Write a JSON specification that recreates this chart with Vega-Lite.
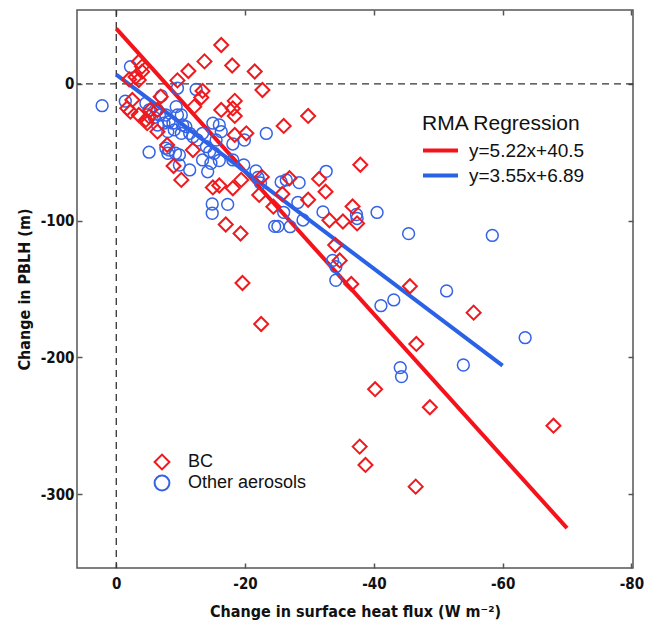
{
  "$schema": "https://vega.github.io/schema/vega-lite/v6.json",
  "width": 556,
  "height": 558,
  "autosize": {"type": "none"},
  "padding": {"left": 77, "top": 10, "right": 13, "bottom": 64},
  "background": "white",
  "config": {
    "view": {"stroke": "#555555", "strokeWidth": 1.5},
    "font": "Liberation Sans",
    "point": {"opacity": 1},
    "axis": {
      "grid": false,
      "domain": false,
      "tickSize": -5,
      "tickColor": "#555555",
      "tickWidth": 1.5,
      "labelFont": "Liberation Sans Narrow, Arial Narrow, DejaVu Sans Condensed, Liberation Sans",
      "labelFontWeight": "bold",
      "labelFontSize": 15,
      "labelColor": "#111111",
      "labelExpr": "'' + datum.value",
      "titleFont": "Liberation Sans Narrow, Arial Narrow, DejaVu Sans Condensed, Liberation Sans",
      "titleFontWeight": "bold",
      "titleFontSize": 16,
      "titleColor": "#111111"
    }
  },
  "datasets": {
    "pts": [
      {"g":"BC","x":-16.3,"y":28.5},{"g":"BC","x":-13.7,"y":16.5},{"g":"BC","x":-11.2,"y":9.5},{"g":"BC","x":-18.0,"y":13.5},{"g":"BC","x":-21.5,"y":9.1},{"g":"BC","x":-22.7,"y":-4.4},{"g":"BC","x":-9.5,"y":2.6},{"g":"BC","x":-13.4,"y":-5.1},{"g":"BC","x":-13.2,"y":-9.9},{"g":"BC","x":-18.4,"y":-12.4},{"g":"BC","x":-18.1,"y":-17.9},{"g":"BC","x":-18.4,"y":-23.4},{"g":"BC","x":-16.3,"y":-19.0},{"g":"BC","x":-3.5,"y":16.3},{"g":"BC","x":-4.0,"y":12.7},{"g":"BC","x":-4.0,"y":9.0},{"g":"BC","x":-3.5,"y":2.9},{"g":"BC","x":-3.0,"y":5.1},{"g":"BC","x":-2.5,"y":-11.7},{"g":"BC","x":-1.7,"y":-17.8},{"g":"BC","x":-5.3,"y":-19.0},{"g":"BC","x":-5.1,"y":-23.9},{"g":"BC","x":-6.9,"y":-9.3},{"g":"BC","x":-2.2,"y":-20.3},{"g":"BC","x":-3.5,"y":-22.7},{"g":"BC","x":-4.6,"y":-26.3},{"g":"BC","x":-4.8,"y":-28.7},{"g":"BC","x":-6.4,"y":-34.9},{"g":"BC","x":-7.9,"y":-44.6},{"g":"BC","x":-8.9,"y":-60.0},{"g":"BC","x":-10.1,"y":-70.2},{"g":"BC","x":-12.1,"y":-16.6},{"g":"BC","x":-29.8,"y":-23.4},{"g":"BC","x":-26.0,"y":-30.7},{"g":"BC","x":-20.2,"y":-36.1},{"g":"BC","x":-18.4,"y":-37.3},{"g":"BC","x":-11.9,"y":-48.3},{"g":"BC","x":-15.0,"y":-75.7},{"g":"BC","x":-16.0,"y":-74.3},{"g":"BC","x":-18.1,"y":-76.3},{"g":"BC","x":-19.4,"y":-70.2},{"g":"BC","x":-22.2,"y":-81.2},{"g":"BC","x":-22.6,"y":-68.0},{"g":"BC","x":-17.0,"y":-102.8},{"g":"BC","x":-19.3,"y":-109.4},{"g":"BC","x":-19.6,"y":-145.6},{"g":"BC","x":-22.5,"y":-175.6},{"g":"BC","x":-24.4,"y":-89.8},{"g":"BC","x":-25.8,"y":-80.5},{"g":"BC","x":-26.9,"y":-69.0},{"g":"BC","x":-29.8,"y":-84.7},{"g":"BC","x":-31.5,"y":-69.5},{"g":"BC","x":-32.5,"y":-78.8},{"g":"BC","x":-33.1,"y":-99.7},{"g":"BC","x":-35.2,"y":-100.6},{"g":"BC","x":-37.4,"y":-102.0},{"g":"BC","x":-36.7,"y":-89.6},{"g":"BC","x":-37.9,"y":-59.1},{"g":"BC","x":-34.0,"y":-117.8},{"g":"BC","x":-34.7,"y":-129.1},{"g":"BC","x":-36.5,"y":-146.3},{"g":"BC","x":-45.6,"y":-148.0},{"g":"BC","x":-55.5,"y":-167.3},{"g":"BC","x":-46.6,"y":-190.2},{"g":"BC","x":-40.2,"y":-223.3},{"g":"BC","x":-48.7,"y":-236.5},{"g":"BC","x":-67.9,"y":-250.0},{"g":"BC","x":-37.8,"y":-265.3},{"g":"BC","x":-38.7,"y":-278.7},{"g":"BC","x":-46.5,"y":-294.6},{"g":"BC","x":-2.0,"y":3.3},{"g":"BC","x":-6.4,"y":-19.0},
      {"g":"Other aerosols","x":2.2,"y":-15.9},{"g":"Other aerosols","x":-2.2,"y":12.7},{"g":"Other aerosols","x":-1.4,"y":-12.6},{"g":"Other aerosols","x":-4.6,"y":-14.1},{"g":"Other aerosols","x":-5.1,"y":-19.0},{"g":"Other aerosols","x":-5.9,"y":-24.5},{"g":"Other aerosols","x":-6.7,"y":-22.7},{"g":"Other aerosols","x":-7.0,"y":-8.8},{"g":"Other aerosols","x":-7.7,"y":-22.7},{"g":"Other aerosols","x":-8.2,"y":-27.6},{"g":"Other aerosols","x":-8.0,"y":-34.9},{"g":"Other aerosols","x":-9.0,"y":-33.6},{"g":"Other aerosols","x":-9.3,"y":-16.6},{"g":"Other aerosols","x":-9.5,"y":-22.7},{"g":"Other aerosols","x":-9.5,"y":-3.1},{"g":"Other aerosols","x":-10.1,"y":-22.7},{"g":"Other aerosols","x":-10.3,"y":-30.0},{"g":"Other aerosols","x":-10.8,"y":-31.2},{"g":"Other aerosols","x":-11.4,"y":-36.1},{"g":"Other aerosols","x":-10.1,"y":-36.1},{"g":"Other aerosols","x":-12.6,"y":-41.0},{"g":"Other aerosols","x":-12.4,"y":-4.0},{"g":"Other aerosols","x":-13.4,"y":-36.1},{"g":"Other aerosols","x":-14.0,"y":-45.9},{"g":"Other aerosols","x":-15.0,"y":-28.7},{"g":"Other aerosols","x":-16.0,"y":-30.0},{"g":"Other aerosols","x":-16.3,"y":-34.9},{"g":"Other aerosols","x":-15.5,"y":-41.0},{"g":"Other aerosols","x":-14.5,"y":-49.5},{"g":"Other aerosols","x":-15.2,"y":-50.7},{"g":"Other aerosols","x":-16.0,"y":-56.0},{"g":"Other aerosols","x":-14.7,"y":-58.0},{"g":"Other aerosols","x":-13.4,"y":-55.6},{"g":"Other aerosols","x":-14.2,"y":-64.2},{"g":"Other aerosols","x":-11.4,"y":-62.9},{"g":"Other aerosols","x":-9.8,"y":-59.3},{"g":"Other aerosols","x":-9.8,"y":-51.9},{"g":"Other aerosols","x":-8.2,"y":-48.3},{"g":"Other aerosols","x":-8.0,"y":-50.7},{"g":"Other aerosols","x":-5.1,"y":-49.9},{"g":"Other aerosols","x":-18.1,"y":-43.9},{"g":"Other aerosols","x":-19.9,"y":-41.0},{"g":"Other aerosols","x":-18.1,"y":-55.6},{"g":"Other aerosols","x":-23.3,"y":-36.2},{"g":"Other aerosols","x":-19.8,"y":-59.3},{"g":"Other aerosols","x":-21.7,"y":-63.6},{"g":"Other aerosols","x":-22.0,"y":-68.4},{"g":"Other aerosols","x":-22.4,"y":-72.4},{"g":"Other aerosols","x":-25.6,"y":-71.7},{"g":"Other aerosols","x":-26.4,"y":-70.2},{"g":"Other aerosols","x":-28.4,"y":-72.2},{"g":"Other aerosols","x":-28.2,"y":-86.7},{"g":"Other aerosols","x":-32.6,"y":-63.9},{"g":"Other aerosols","x":-26.0,"y":-93.9},{"g":"Other aerosols","x":-24.6,"y":-104.2},{"g":"Other aerosols","x":-25.1,"y":-104.2},{"g":"Other aerosols","x":-27.0,"y":-104.4},{"g":"Other aerosols","x":-29.0,"y":-99.5},{"g":"Other aerosols","x":-32.1,"y":-93.6},{"g":"Other aerosols","x":-37.3,"y":-95.5},{"g":"Other aerosols","x":-37.4,"y":-98.4},{"g":"Other aerosols","x":-14.9,"y":-87.8},{"g":"Other aerosols","x":-14.9,"y":-94.6},{"g":"Other aerosols","x":-17.3,"y":-88.1},{"g":"Other aerosols","x":-33.6,"y":-129.1},{"g":"Other aerosols","x":-34.1,"y":-133.7},{"g":"Other aerosols","x":-34.1,"y":-143.6},{"g":"Other aerosols","x":-40.5,"y":-94.0},{"g":"Other aerosols","x":-45.4,"y":-109.5},{"g":"Other aerosols","x":-58.4,"y":-110.8},{"g":"Other aerosols","x":-51.3,"y":-151.4},{"g":"Other aerosols","x":-43.1,"y":-158.0},{"g":"Other aerosols","x":-41.1,"y":-162.2},{"g":"Other aerosols","x":-63.5,"y":-185.6},{"g":"Other aerosols","x":-53.9,"y":-205.6},{"g":"Other aerosols","x":-44.1,"y":-207.5},{"g":"Other aerosols","x":-44.3,"y":-214.1},{"g":"Other aerosols","x":-8.8,"y":-28.7},{"g":"Other aerosols","x":-11.9,"y":-38.6},{"g":"Other aerosols","x":-6.4,"y":-30.0},{"g":"Other aerosols","x":-7.4,"y":-28.7},{"g":"Other aerosols","x":-7.7,"y":-47.0},{"g":"Other aerosols","x":-9.2,"y":-50.7},{"g":"Other aerosols","x":-6.4,"y":-19.0}
    ],
    "lines": [
      {"eq":"y=5.22x+40.5","x":0,"y":40.5},
      {"eq":"y=5.22x+40.5","x":-70,"y":-324.9},
      {"eq":"y=3.55x+6.89","x":0,"y":6.89},
      {"eq":"y=3.55x+6.89","x":-60,"y":-206.1}
    ],
    "zero": [{"v":0}]
  },
  "layer": [
    {
      "data": {"name": "zero"},
      "mark": {"type": "rule", "color": "#333333", "strokeWidth": 1.3, "strokeDash": [7, 5]},
      "encoding": {
        "x": {
          "field": "v", "type": "quantitative",
          "scale": {"domain": [-80.25, 6.1], "reverse": true, "nice": false, "zero": false},
          "axis": {"orient": "bottom", "values": [0, -20, -40, -60, -80], "labelPadding": 13, "title": "Change in surface heat flux (W m⁻²)", "titlePadding": 12}
        }
      }
    },
    {
      "data": {"name": "zero"},
      "mark": {"type": "rule", "color": "#333333", "strokeWidth": 1.3, "strokeDash": [7, 5]},
      "encoding": {
        "y": {
          "field": "v", "type": "quantitative",
          "scale": {"domain": [-354.1, 54.1], "nice": false, "zero": false},
          "axis": {"orient": "left", "values": [0, -100, -200, -300], "labelPadding": 8, "title": "Change in PBLH (m)", "titlePadding": 8}
        }
      }
    },
    {
      "data": {"name": "lines"},
      "mark": {"type": "line", "strokeWidth": 4},
      "encoding": {
        "x": {"field": "x", "type": "quantitative", "axis": null},
        "y": {"field": "y", "type": "quantitative", "axis": null},
        "detail": {"field": "eq"},
        "color": {
          "field": "eq", "type": "nominal",
          "scale": {"domain": ["y=5.22x+40.5", "y=3.55x+6.89"], "range": ["#f5121a", "#2a62e6"]},
          "legend": {
            "orient": "none", "legendX": 345, "legendY": 103,
            "title": "RMA Regression", "titleFontSize": 21, "titleFontWeight": "normal", "titleColor": "#111111", "titleFont": "Liberation Sans", "titlePadding": 5,
            "symbolType": "M-1.842,0L1.842,0", "symbolSize": 361, "symbolStrokeWidth": 4, "symbolOffset": 7,
            "labelFontSize": 19, "labelFont": "Liberation Sans", "labelColor": "#111111", "labelOffset": 17, "rowPadding": 3
          }
        }
      }
    },
    {
      "data": {"name": "pts"},
      "transform": [{"filter": "datum.g === 'Other aerosols'"}],
      "mark": {"type": "point", "filled": false, "size": 140, "strokeWidth": 1.5, "opacity": 1},
      "encoding": {
        "x": {"field": "x", "type": "quantitative", "axis": {"orient": "top", "values": [0, -20, -40, -60, -80], "labels": false, "title": null}},
        "y": {"field": "y", "type": "quantitative", "axis": {"orient": "right", "values": [0, -100, -200, -300], "labels": false, "title": null}},
        "shape": {"field": "g", "type": "nominal", "scale": {"domain": ["BC", "Other aerosols"], "range": ["diamond", "circle"]}, "legend": {
            "orient": "none", "legendX": 76, "legendY": 443, "title": null,
            "symbolSize": 220, "symbolStrokeWidth": 2, "symbolFillColor": "transparent",
            "labelFontSize": 18, "labelFont": "Liberation Sans", "labelColor": "#111111", "labelOffset": 17, "rowPadding": -3
          }},
        "stroke": {
          "field": "g", "type": "nominal",
          "scale": {"domain": ["BC", "Other aerosols"], "range": ["#f0191e", "#3563e6"]},
          "legend": {
            "orient": "none", "legendX": 76, "legendY": 443, "title": null,
            "symbolSize": 220, "symbolStrokeWidth": 2, "symbolFillColor": "transparent",
            "labelFontSize": 18, "labelFont": "Liberation Sans", "labelColor": "#111111", "labelOffset": 17, "rowPadding": -3
          }
        }
      }
    },
    {
      "data": {"name": "pts"},
      "transform": [{"filter": "datum.g === 'BC'"}],
      "mark": {"type": "point", "filled": false, "size": 196, "strokeWidth": 2, "opacity": 1},
      "encoding": {
        "x": {"field": "x", "type": "quantitative", "axis": null},
        "y": {"field": "y", "type": "quantitative", "axis": null},
        "shape": {"field": "g", "type": "nominal", "legend": {
            "orient": "none", "legendX": 76, "legendY": 443, "title": null,
            "symbolSize": 220, "symbolStrokeWidth": 2, "symbolFillColor": "transparent",
            "labelFontSize": 18, "labelFont": "Liberation Sans", "labelColor": "#111111", "labelOffset": 17, "rowPadding": -3
          }},
        "stroke": {"field": "g", "type": "nominal", "legend": {
            "orient": "none", "legendX": 76, "legendY": 443, "title": null,
            "symbolSize": 220, "symbolStrokeWidth": 2, "symbolFillColor": "transparent",
            "labelFontSize": 18, "labelFont": "Liberation Sans", "labelColor": "#111111", "labelOffset": 17, "rowPadding": -3
          }}
      }
    }
  ],
  "resolve": {"axis": {"x": "independent", "y": "independent"}}
}
